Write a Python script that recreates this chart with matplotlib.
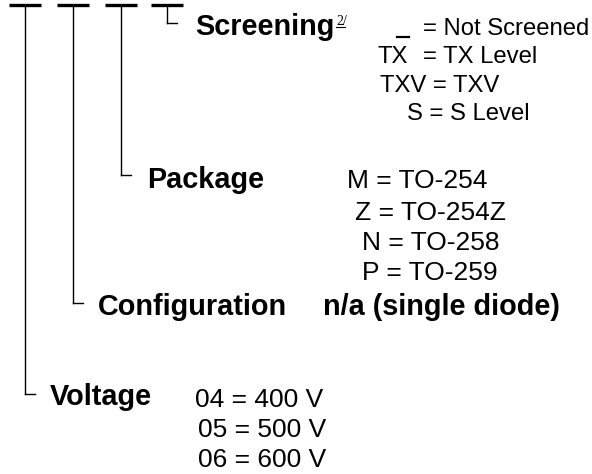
import matplotlib as mpl
mpl.use('Agg')
import matplotlib.pyplot as plt

# part-number breakdown (pixel coordinates, y measured from the top)
field_names = ['Voltage', 'Configuration', 'Package', 'Screening']
field_x = [50, 98, 147, 195]
field_y = [405, 315, 188, 35]
stem_x = [25, 73, 121, 167]
stem_end = [394, 303, 175, 23]

screening_codes = ['', 'TX', 'TXV = TXV', 'S = S Level']
screening_desc = ['= Not Screened', '= TX Level', '', '']
screening_code_x = [397, 378, 380, 407]
screening_desc_x = [423, 423, 423, 423]
screening_y = [35, 63, 92, 120]

package_options = ['M = TO-254', 'Z = TO-254Z', 'N = TO-258', 'P = TO-259']
package_x = [347, 355, 362, 362]
package_y = [188, 220, 250, 280]

config_option = 'n/a (single diode)'

voltage_options = ['04 = 400 V', '05 = 500 V', '06 = 600 V']
voltage_x = [195, 198, 198]
voltage_y = [407, 437, 467]

plt.rcParams['font.family'] = ['Liberation Sans', 'DejaVu Sans']

fig = plt.figure(figsize=(5.92, 4.74), dpi=100)
ax = fig.add_axes([0, 0, 1, 1])
ax.set_xlim(0, 592)
ax.set_ylim(474, 0)
ax.axis('off')

bold_size = 20.8
reg_size = 19
scr_size = 17.2

# top bars, stems and the little L hooks
for sx, se in zip(stem_x, stem_end):
    ax.plot([sx - 16, sx + 16], [5, 5], color='black', lw=2.4,
            solid_capstyle='butt')
    ax.plot([sx, sx], [5, se], color='black', lw=1.0)
    ax.plot([sx, sx + 10], [se, se], color='black', lw=1.0)

for name, x, y in zip(field_names, field_x, field_y):
    ax.text(x, y, name, fontsize=bold_size, fontweight='bold',
            ha='left', va='baseline')

# footnote marker on Screening
ax.text(336, 25, '2/', fontsize=10, family='Liberation Serif',
        ha='left', va='baseline')
ax.plot([336, 345], [27, 27], color='black', lw=0.8)

# screening options
ax.plot([397, 409], [37, 37], color='black', lw=1.6)
for code, desc, cx, dx, y in zip(screening_codes, screening_desc,
                                 screening_code_x, screening_desc_x,
                                 screening_y):
    if code:
        ax.text(cx, y, code, fontsize=scr_size, ha='left', va='baseline')
    if desc:
        ax.text(dx, y, desc, fontsize=scr_size, ha='left', va='baseline')

for opt, x, y in zip(package_options, package_x, package_y):
    ax.text(x, y, opt, fontsize=reg_size, ha='left', va='baseline')

ax.text(323, 315, config_option, fontsize=bold_size, fontweight='bold',
        ha='left', va='baseline')

for opt, x, y in zip(voltage_options, voltage_x, voltage_y):
    ax.text(x, y, opt, fontsize=reg_size, ha='left', va='baseline')

fig.savefig('out.png', dpi=100, facecolor='white')
plt.close()
